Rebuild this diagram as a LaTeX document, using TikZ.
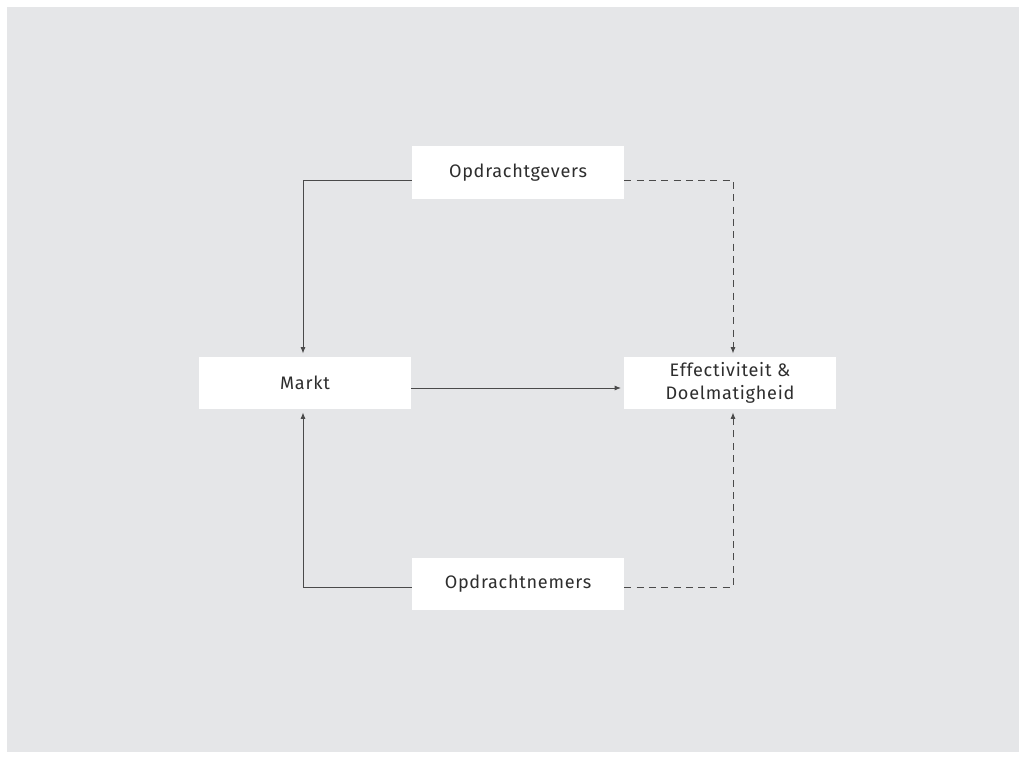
\documentclass[tikz,border=0pt]{standalone}
\usepackage{fontspec}
\setmainfont{Fira Sans}[LetterSpace=4]
\usetikzlibrary{arrows.meta}

\definecolor{paneel}{HTML}{E5E6E8}
\definecolor{lijn}{HTML}{4A4A4A}
\definecolor{tekst}{HTML}{2E2E2E}

\tikzset{
  blok/.style={fill=white, text=tekst, minimum width=4.24cm, minimum height=1.06cm,
    align=center, font=\fontsize{10.3}{13}\selectfont, inner sep=0pt},
  pijl/.style={draw=lijn, line width=0.5pt, -{Latex[length=3.6pt,width=2.8pt]}, shorten >=1.5pt},
  stippel/.style={pijl, dash pattern=on 4pt off 3pt}
}

\begin{document}
\begin{tikzpicture}[x=0.02cm,y=-0.02cm]
\useasboundingbox (0,0) rectangle (1026,759);
\fill[paneel] (7,7) rectangle (1019,752);

\node[blok] (gevers) at (518,173) {Opdrachtgevers};
\node[blok] (markt) at (305,383) {Markt};
\node[blok] (effect) at (730,383) {Effectiviteit \&\\Doelmatigheid};
\node[blok] (nemers) at (518,584) {Opdrachtnemers};

\draw[pijl] ([yshift=-0.14cm]gevers.west) -| ([xshift=-0.04cm]markt.north);
\draw[pijl] ([yshift=-0.06cm]nemers.west) -| ([xshift=-0.04cm]markt.south);
\draw[pijl] ([yshift=-0.1cm]markt.east) -- ([yshift=-0.1cm]effect.west);
\draw[stippel] ([yshift=-0.14cm]gevers.east) -| ([xshift=0.06cm]effect.north);
\draw[stippel] ([yshift=-0.06cm]nemers.east) -| ([xshift=0.06cm]effect.south);
\end{tikzpicture}
\end{document}
